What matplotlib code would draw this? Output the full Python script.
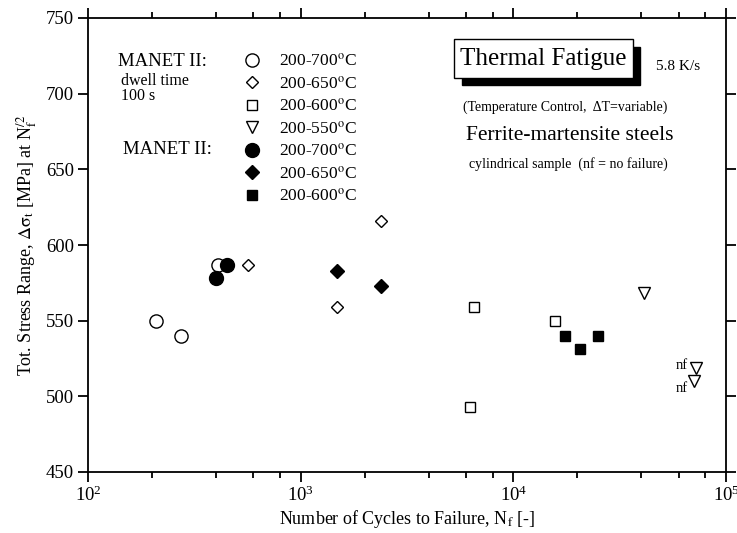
import matplotlib
matplotlib.use("Agg")
import matplotlib.pyplot as plt
from matplotlib.patches import Rectangle
from matplotlib.ticker import LogLocator, LogFormatterMathtext, MultipleLocator, NullFormatter

plt.rcParams['font.family'] = ['Liberation Serif', 'DejaVu Serif']
plt.rcParams['mathtext.fontset'] = 'stix'

# ---- data (cycles to failure, total stress range MPa) ----
open_circle_N = [209, 274, 408]
open_circle_S = [550, 540, 587]
open_diamond_N = [565, 1480, 2390]
open_diamond_S = [587, 559, 616]
open_square_N = [6500, 6250, 15700]
open_square_S = [559, 493, 550]
open_tri_N = [41000, 72000, 70500]
open_tri_S = [568, 519, 510]
filled_circle_N = [400, 450]
filled_circle_S = [578, 587]
filled_diamond_N = [1480, 2390]
filled_diamond_S = [583, 573]
filled_square_N = [17500, 20600, 25000]
filled_square_S = [540, 531, 540]
nf_labels = ["nf", "nf"]

legend_labels = ["200-700$^\\mathrm{o}$C", "200-650$^\\mathrm{o}$C", "200-600$^\\mathrm{o}$C",
                 "200-550$^\\mathrm{o}$C", "200-700$^\\mathrm{o}$C", "200-650$^\\mathrm{o}$C",
                 "200-600$^\\mathrm{o}$C"]

W, H = 737, 533
fig = plt.figure(figsize=(W / 100, H / 100), dpi=100)
L, R, T, B = 88, 726, 18, 472
ax = fig.add_axes([L / W, 1 - B / H, (R - L) / W, (B - T) / H])

def fp(x, y):
    return (x / W, 1 - y / H)

mk = dict(linestyle='none', markeredgecolor='black', markeredgewidth=1.0)
h1, = ax.plot(open_circle_N, open_circle_S, 'o', ms=9.5, mfc='white', **mk)
h2, = ax.plot(open_diamond_N, open_diamond_S, 'D', ms=6.5, mfc='white', **mk)
h3, = ax.plot(open_square_N, open_square_S, 's', ms=6.5, mfc='white', **mk)
h4, = ax.plot(open_tri_N, open_tri_S, 'v', ms=8, mfc='white', **mk)
h5, = ax.plot(filled_circle_N, filled_circle_S, 'o', ms=10, mfc='black', **mk)
h6, = ax.plot(filled_diamond_N, filled_diamond_S, 'D', ms=7, mfc='black', **mk)
h7, = ax.plot(filled_square_N, filled_square_S, 's', ms=7, mfc='black', **mk)

# nf annotations
ax.annotate(nf_labels[0], (open_tri_N[1], open_tri_S[1]), xytext=(-8, 2), textcoords='offset pixels',
            ha='right', va='center', fontsize=10.5)
ax.annotate(nf_labels[1], (open_tri_N[2], open_tri_S[2]), xytext=(-6, -7), textcoords='offset pixels',
            ha='right', va='center', fontsize=10.5)

ax.set_xscale('log')
ax.set_xlim(1e2, 1e5)
ax.set_ylim(450, 750)
ax.yaxis.set_major_locator(MultipleLocator(50))
ax.xaxis.set_major_locator(LogLocator(base=10))
ax.xaxis.set_major_formatter(LogFormatterMathtext())
ax.xaxis.set_minor_locator(LogLocator(base=10, subs=[2, 4, 6, 8]))
ax.xaxis.set_minor_formatter(NullFormatter())

for s in ax.spines.values():
    s.set_linewidth(1.3)
ax.tick_params(which='major', direction='out', length=7, width=1.3, top=True, right=True,
               labelsize=13.5, pad=3)
ax.tick_params(which='minor', direction='out', length=4, width=1.3, top=True, right=True)

ax.set_xlabel('Number of Cycles to Failure, N$_\\mathrm{f}$ [-]', fontsize=13, labelpad=2)
ax.set_ylabel('Tot. Stress Range, $\\mathrm{\\Delta\\sigma}_\\mathrm{t}$ [MPa] at N$_\\mathrm{f}^{/2}$',
              fontsize=13, labelpad=5)

leg = ax.legend([h1, h2, h3, h4, h5, h6, h7], legend_labels, loc='upper left',
                bbox_to_anchor=fp(243, 53), bbox_transform=fig.transFigure,
                frameon=False, fontsize=12.5, borderpad=0, borderaxespad=0,
                handlelength=1.0, handletextpad=1.05, labelspacing=0.33, numpoints=1)

# left side labels
fig.text(*fp(118, 61), 'MANET II:', fontsize=13.5, ha='left', va='center')
fig.text(*fp(121, 81), 'dwell time', fontsize=11.5, ha='left', va='center')
fig.text(*fp(121, 96), '100 s', fontsize=11.5, ha='left', va='center')
fig.text(*fp(123, 149), 'MANET II:', fontsize=13.5, ha='left', va='center')

# Thermal fatigue box with shadow
fig.add_artist(Rectangle(fp(462, 85), (640 - 462) / W, (85 - 47) / H, transform=fig.transFigure,
                         facecolor='black', edgecolor='black', zorder=5))
fig.add_artist(Rectangle(fp(454, 78), (633 - 454) / W, (78 - 39) / H, transform=fig.transFigure,
                         facecolor='white', edgecolor='black', linewidth=1.0, zorder=6))
fig.text(*fp(543, 59), 'Thermal Fatigue', fontsize=18, ha='center', va='center', zorder=7)
fig.text(*fp(678, 67), '5.8 K/s', fontsize=11, ha='center', va='center')
fig.text(*fp(565, 107), '(Temperature Control,  \u0394T=variable)', fontsize=10, ha='center', va='center')
fig.text(*fp(570, 136), 'Ferrite-martensite steels', fontsize=15.5, ha='center', va='center')
fig.text(*fp(568, 164), 'cylindrical sample  (nf = no failure)', fontsize=10, ha='center', va='center')

fig.savefig('out.png', dpi=100)
